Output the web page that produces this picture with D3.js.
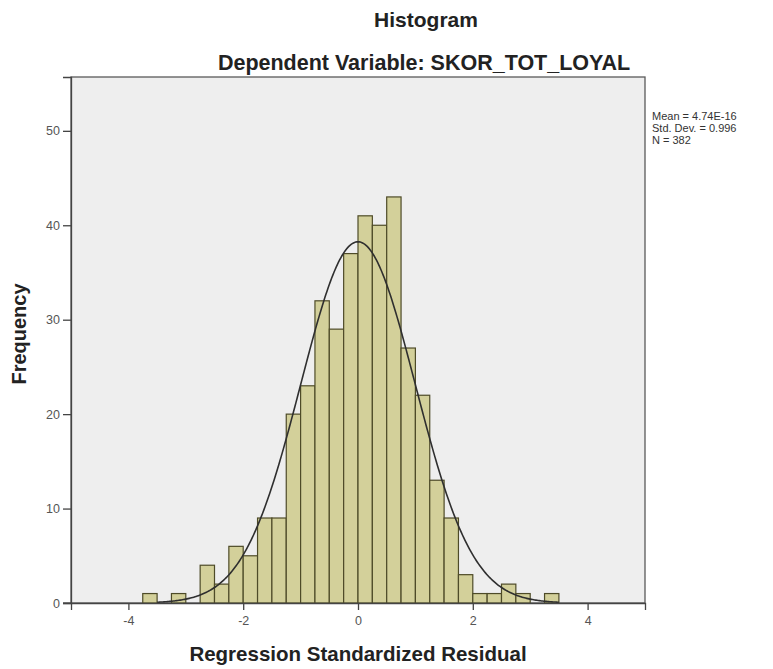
<!DOCTYPE html>
<html>
<head>
<meta charset="utf-8">
<script src="https://cdn.jsdelivr.net/npm/d3@7"></script>
<style>
  body { margin: 0; background: #fff; }
  svg { display: block; font-family: "Liberation Sans", Arial, sans-serif; }
</style>
</head>
<body>
<svg id="chart" width="773" height="669"></svg>
<script>
// ---- data ----
const binStarts = [-3.75,-3.5,-3.25,-3.0,-2.75,-2.5,-2.25,-2.0,-1.75,-1.5,-1.25,-1.0,-0.75,-0.5,-0.25,0,0.25,0.5,0.75,1.0,1.25,1.5,1.75,2.0,2.25,2.5,2.75,3.0,3.25];
const frequencies = [1,0,1,0,4,2,6,5,9,9,20,23,32,29,37,41,40,43,27,22,13,9,3,1,1,2,1,0,1];
const binWidth = 0.25;
const xTicks = [-4,-2,0,2,4];
const yTicks = [0,10,20,30,40,50];
const statLabels = ["Mean = 4.74E-16", "Std. Dev. = 0.996", "N = 382"];
const mean = 4.74e-16, sd = 0.996, n = 382;
const titleText = "Histogram";
const subtitleText = "Dependent Variable: SKOR_TOT_LOYAL";
const xLabel = "Regression Standardized Residual";
const yLabel = "Frequency";

// ---- layout ----
const svg = d3.select("#chart");
const mLeft = 71, mRight = 645, mTop = 77, mBottom = 603;

const x = d3.scaleLinear().domain([-5, 5]).range([mLeft, mRight]);
const y = d3.scaleLinear().domain([0, 55.7]).range([mBottom, mTop]);
const fmt = d => String(d).replace("\u2212", "-");

// plot background
svg.append("rect").attr("x", mLeft).attr("y", mTop)
  .attr("width", mRight - mLeft).attr("height", mBottom - mTop)
  .attr("fill", "#eeeeee").attr("stroke", "#5a5a5a").attr("stroke-width", 1.3);

// bars
const bars = binStarts.map((b, i) => ({x0: b, x1: b + binWidth, f: frequencies[i]})).filter(d => d.f > 0);
svg.append("g").selectAll("rect").data(bars).join("rect")
  .attr("x", d => x(d.x0))
  .attr("y", d => y(d.f))
  .attr("width", d => x(d.x1) - x(d.x0))
  .attr("height", d => y(0) - y(d.f))
  .attr("fill", "#d3d09a")
  .attr("stroke", "#4e4b28")
  .attr("stroke-width", 1.2);

// normal curve
const pdf = v => Math.exp(-0.5 * ((v - mean) / sd) ** 2) / (sd * Math.sqrt(2 * Math.PI));
const curvePts = d3.range(-3.5, 3.5001, 0.02).map(v => [v, n * binWidth * pdf(v)]);
svg.append("path").datum(curvePts)
  .attr("fill", "none").attr("stroke", "#2f2f2f").attr("stroke-width", 1.6)
  .attr("d", d3.line().x(d => x(d[0])).y(d => y(d[1])));

// axes
const xAxis = svg.append("g").attr("transform", `translate(0,${mBottom})`)
  .call(d3.axisBottom(x).tickValues(xTicks).tickSize(7).tickPadding(6).tickFormat(d => fmt(d)));
const yAxis = svg.append("g").attr("transform", `translate(${mLeft},0)`)
  .call(d3.axisLeft(y).tickValues(yTicks).tickSize(8).tickPadding(3).tickFormat(d => fmt(d)));
[xAxis, yAxis].forEach(a => {
  a.select(".domain").attr("stroke", "#444").attr("stroke-width", 1.3);
  a.selectAll(".tick line").attr("stroke", "#444").attr("stroke-width", 1.3);
  a.selectAll(".tick text").attr("fill", "#555").style("font-size", "12.5px")
    .style("font-family", '"Liberation Sans", Arial, sans-serif');
});
svg.append("line").attr("x1", mLeft - 8).attr("x2", mLeft).attr("y1", mBottom).attr("y2", mBottom)
  .attr("stroke", "#444").attr("stroke-width", 1.3);

// titles
svg.append("text").attr("x", 426).attr("y", 27).attr("text-anchor", "middle")
  .style("font-weight", "bold").style("font-size", "21px").attr("fill", "#222").text(titleText);
svg.append("text").attr("x", 424).attr("y", 70).attr("text-anchor", "middle")
  .style("font-weight", "bold").style("font-size", "21.5px").attr("fill", "#222").text(subtitleText);

svg.append("text").attr("x", 358).attr("y", 661).attr("text-anchor", "middle")
  .style("font-weight", "bold").style("font-size", "20.5px").attr("fill", "#222").text(xLabel);
svg.append("text").attr("transform", "translate(26,334) rotate(-90)").attr("text-anchor", "middle")
  .style("font-weight", "bold").style("font-size", "20px").attr("fill", "#222").text(yLabel);

// stats legend
svg.append("g").selectAll("text").data(statLabels).join("text")
  .attr("x", 652).attr("y", (d, i) => 120 + i * 12)
  .style("font-size", "11px").attr("fill", "#333").text(d => d);
</script>
</body>
</html>
